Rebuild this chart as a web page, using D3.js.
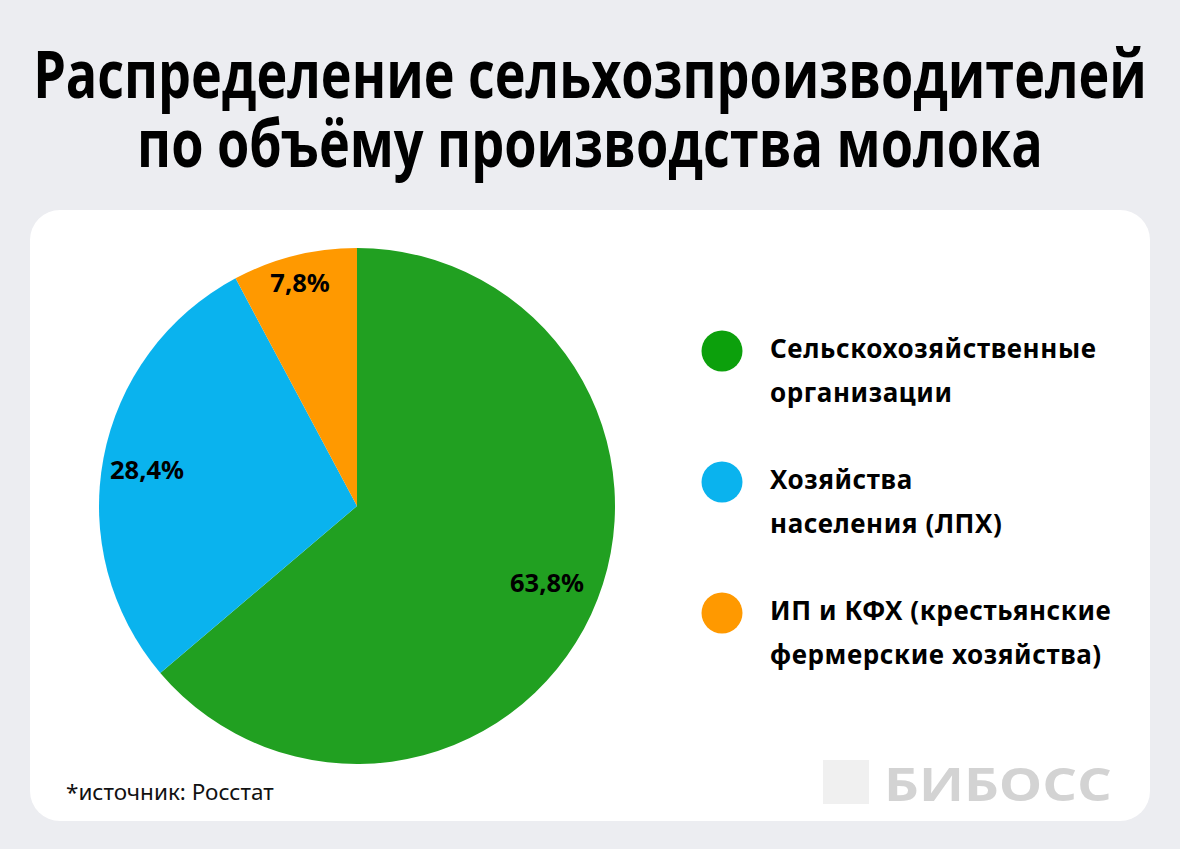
<!DOCTYPE html>
<html><head><meta charset="utf-8">
<script src="https://cdn.jsdelivr.net/npm/d3@7"></script>
<style>html,body{margin:0;padding:0;background:#ecedf1;}svg{display:block;}</style>
</head><body>
<svg id="chart" width="1180" height="849"></svg>
<script>
const titleLines = ["Распределение сельхозпроизводителей", "по объёму производства молока"];
const categories = ["Сельскохозяйственные организации", "Хозяйства населения (ЛПХ)", "ИП и КФХ (крестьянские фермерские хозяйства)"];
const legendLines = [["Сельскохозяйственные", "организации"], ["Хозяйства", "населения (ЛПХ)"], ["ИП и КФХ (крестьянские", "фермерские хозяйства)"]];
const values = [63.8, 28.4, 7.8];
const valueLabels = ["63,8%", "28,4%", "7,8%"];
const sourceText = "*источник: Росстат";
const brandText = "БИБОСС";

const colors = ["#21a021", "#0ab3ee", "#ff9900"];
const legendColors = ["#0ca00c", "#0ab3ee", "#ff9900"];

const svg = d3.select("#chart");
svg.append("rect").attr("width", 1180).attr("height", 849).attr("fill", "#ecedf1");

// title (condensed look via horizontal scale)
const titleWidths = [1114, 906];
const titleY = [98, 167];
titleLines.forEach((t, i) => {
  const tx = svg.append("text").attr("x", 0).attr("y", 0).attr("text-anchor", "middle")
    .attr("font-family", "'Open Sans', 'Noto Sans', sans-serif").attr("font-weight", 700)
    .attr("font-size", 66).attr("fill", "#000")
    .text(t);
  const natural = tx.node().getComputedTextLength();
  const s = titleWidths[i] / natural;
  tx.attr("transform", `translate(590,${titleY[i]}) scale(${s},1)`);
});

// card
svg.append("rect").attr("x", 30).attr("y", 210).attr("width", 1120).attr("height", 611)
  .attr("rx", 30).attr("fill", "#fff");

// pie
const cx = 357, cy = 506, R = 258;
const pie = d3.pie().sort(null).value(d => d)(values);
const arc = d3.arc().innerRadius(0).outerRadius(R);
const g = svg.append("g").attr("transform", `translate(${cx},${cy})`);
g.selectAll("path").data(pie).join("path").attr("d", arc).attr("fill", (d, i) => colors[i]);

const labelR = [205, 213, 230];
const labelShift = [-2.8, -1.1, -0.3]; // degrees
g.selectAll("text.lbl").data(pie).join("text").attr("class", "lbl")
  .attr("transform", (d, i) => {
    const a = (d.startAngle + d.endAngle) / 2 + labelShift[i] * Math.PI / 180;
    return `translate(${labelR[i] * Math.sin(a)},${-labelR[i] * Math.cos(a)})`;
  })
  .attr("text-anchor", "middle").attr("dy", "0.36em")
  .attr("font-family", "'Noto Sans', 'Open Sans', sans-serif").attr("font-weight", 700)
  .attr("font-size", 25.5).attr("fill", "#000")
  .text((d, i) => valueLabels[i]);

// legend
const legY = d3.scalePoint().domain(d3.range(categories.length)).range([351, 613]);
const leg = svg.append("g");
categories.forEach((c, i) => {
  const y = legY(i);
  leg.append("circle").attr("cx", 722).attr("cy", y).attr("r", 20.5).attr("fill", legendColors[i]);
  legendLines[i].forEach((line, j) => {
    leg.append("text").attr("x", 770).attr("y", y + 7 + j * 44)
      .attr("font-family", "'Noto Sans', 'Open Sans', sans-serif").attr("font-weight", 700)
      .attr("font-size", 26).attr("letter-spacing", 0.6).attr("fill", "#000").text(line);
  });
});

// source
svg.append("text").attr("x", 66).attr("y", 800)
  .attr("font-family", "'Noto Sans', 'Open Sans', sans-serif").attr("font-size", 22.5).attr("fill", "#111")
  .text(sourceText);

// brand watermark
svg.append("rect").attr("x", 823).attr("y", 760).attr("width", 46).attr("height", 44).attr("fill", "#f0f0f0");
const brand = svg.append("text").attr("x", 0).attr("y", 0)
  .attr("font-family", "'Open Sans', 'Noto Sans', sans-serif").attr("font-weight", 700)
  .attr("font-size", 47).attr("fill", "#d3d3d3")
  .text(brandText);
const bs = 228 / brand.node().getComputedTextLength();
brand.attr("transform", `translate(884,801) scale(${bs},1)`);
</script>
</body></html>
